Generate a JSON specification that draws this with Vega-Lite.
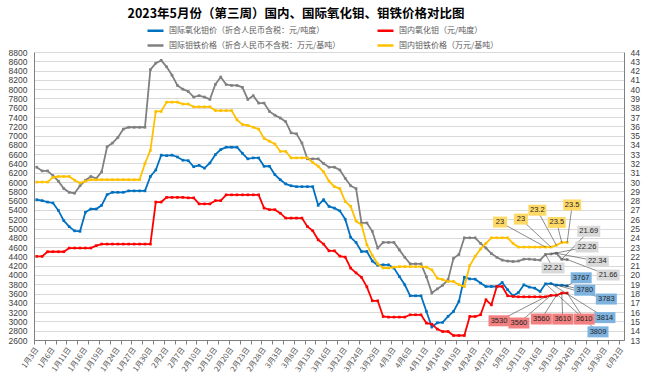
{
  "$schema": "https://vega.github.io/schema/vega-lite/v6.json",
  "width": 590,
  "height": 288,
  "autosize": {"type": "none"},
  "padding": {"left": 34, "top": 52, "right": 26, "bottom": 47},
  "background": "white",
  "config": {"view": {"stroke": null}, "font": "Noto Sans CJK SC"},
  "title": {
    "text": "2023年5月份（第三周）国内、国际氧化钼、钼铁价格对比图",
    "fontSize": 12.5,
    "fontWeight": "bold",
    "font": "Noto Sans CJK SC",
    "color": "#000000",
    "anchor": "middle",
    "frame": "group",
    "dx": -33,
    "offset": 1
  },
  "data": {
    "values": [
      {"i": 0, "intl_oxide": 5620, "dom_oxide": 4400, "intl_femo": 31.6, "dom_femo": 30.0},
      {"i": 1, "intl_oxide": 5600, "dom_oxide": 4400, "intl_femo": 31.2, "dom_femo": 30.0},
      {"i": 2, "intl_oxide": 5570, "dom_oxide": 4500, "intl_femo": 31.2, "dom_femo": 30.0},
      {"i": 3, "intl_oxide": 5550, "dom_oxide": 4500, "intl_femo": 30.7, "dom_femo": 30.5},
      {"i": 4, "intl_oxide": 5390, "dom_oxide": 4500, "intl_femo": 30.1, "dom_femo": 30.6},
      {"i": 5, "intl_oxide": 5170, "dom_oxide": 4500, "intl_femo": 29.3, "dom_femo": 30.6},
      {"i": 6, "intl_oxide": 5040, "dom_oxide": 4580, "intl_femo": 28.9, "dom_femo": 30.6},
      {"i": 7, "intl_oxide": 4950, "dom_oxide": 4580, "intl_femo": 28.8, "dom_femo": 30.2},
      {"i": 8, "intl_oxide": 4940, "dom_oxide": 4580, "intl_femo": 29.6, "dom_femo": 29.9},
      {"i": 9, "intl_oxide": 5350, "dom_oxide": 4580, "intl_femo": 30.2, "dom_femo": 30.1},
      {"i": 10, "intl_oxide": 5420, "dom_oxide": 4580, "intl_femo": 30.6, "dom_femo": 30.25},
      {"i": 11, "intl_oxide": 5420, "dom_oxide": 4630, "intl_femo": 30.4, "dom_femo": 30.25},
      {"i": 12, "intl_oxide": 5500, "dom_oxide": 4665, "intl_femo": 31.1, "dom_femo": 30.25},
      {"i": 13, "intl_oxide": 5730, "dom_oxide": 4665, "intl_femo": 33.8, "dom_femo": 30.25},
      {"i": 14, "intl_oxide": 5780, "dom_oxide": 4665, "intl_femo": 34.2, "dom_femo": 30.25},
      {"i": 15, "intl_oxide": 5780, "dom_oxide": 4665, "intl_femo": 34.8, "dom_femo": 30.25},
      {"i": 16, "intl_oxide": 5780, "dom_oxide": 4665, "intl_femo": 35.7, "dom_femo": 30.25},
      {"i": 17, "intl_oxide": 5810, "dom_oxide": 4665, "intl_femo": 35.9, "dom_femo": 30.25},
      {"i": 18, "intl_oxide": 5810, "dom_oxide": 4665, "intl_femo": 35.9, "dom_femo": 30.25},
      {"i": 19, "intl_oxide": 5810, "dom_oxide": 4665, "intl_femo": 35.9, "dom_femo": 30.25},
      {"i": 20, "intl_oxide": 5810, "dom_oxide": 4665, "intl_femo": 35.9, "dom_femo": 32.0},
      {"i": 21, "intl_oxide": 6120, "dom_oxide": 4665, "intl_femo": 42.1, "dom_femo": 33.4},
      {"i": 22, "intl_oxide": 6260, "dom_oxide": 5570, "intl_femo": 42.8, "dom_femo": 37.6},
      {"i": 23, "intl_oxide": 6580, "dom_oxide": 5570, "intl_femo": 43.1, "dom_femo": 37.6},
      {"i": 24, "intl_oxide": 6570, "dom_oxide": 5670, "intl_femo": 42.4, "dom_femo": 38.6},
      {"i": 25, "intl_oxide": 6580, "dom_oxide": 5670, "intl_femo": 41.5, "dom_femo": 38.6},
      {"i": 26, "intl_oxide": 6540, "dom_oxide": 5670, "intl_femo": 40.4, "dom_femo": 38.6},
      {"i": 27, "intl_oxide": 6470, "dom_oxide": 5670, "intl_femo": 40.0, "dom_femo": 38.4},
      {"i": 28, "intl_oxide": 6460, "dom_oxide": 5660, "intl_femo": 39.75, "dom_femo": 38.4},
      {"i": 29, "intl_oxide": 6330, "dom_oxide": 5660, "intl_femo": 39.15, "dom_femo": 38.1},
      {"i": 30, "intl_oxide": 6360, "dom_oxide": 5530, "intl_femo": 39.3, "dom_femo": 38.1},
      {"i": 31, "intl_oxide": 6300, "dom_oxide": 5530, "intl_femo": 39.15, "dom_femo": 38.1},
      {"i": 32, "intl_oxide": 6410, "dom_oxide": 5530, "intl_femo": 38.9, "dom_femo": 38.1},
      {"i": 33, "intl_oxide": 6590, "dom_oxide": 5600, "intl_femo": 40.5, "dom_femo": 37.7},
      {"i": 34, "intl_oxide": 6700, "dom_oxide": 5600, "intl_femo": 41.3, "dom_femo": 37.7},
      {"i": 35, "intl_oxide": 6750, "dom_oxide": 5725, "intl_femo": 40.5, "dom_femo": 37.7},
      {"i": 36, "intl_oxide": 6750, "dom_oxide": 5725, "intl_femo": 40.4, "dom_femo": 37.7},
      {"i": 37, "intl_oxide": 6750, "dom_oxide": 5725, "intl_femo": 40.4, "dom_femo": 36.7},
      {"i": 38, "intl_oxide": 6620, "dom_oxide": 5725, "intl_femo": 40.2, "dom_femo": 36.2},
      {"i": 39, "intl_oxide": 6500, "dom_oxide": 5725, "intl_femo": 38.9, "dom_femo": 36.1},
      {"i": 40, "intl_oxide": 6520, "dom_oxide": 5725, "intl_femo": 39.3, "dom_femo": 35.9},
      {"i": 41, "intl_oxide": 6520, "dom_oxide": 5725, "intl_femo": 38.5, "dom_femo": 35.7},
      {"i": 42, "intl_oxide": 6340, "dom_oxide": 5440, "intl_femo": 38.5, "dom_femo": 34.7},
      {"i": 43, "intl_oxide": 6340, "dom_oxide": 5405, "intl_femo": 37.6, "dom_femo": 34.4},
      {"i": 44, "intl_oxide": 6160, "dom_oxide": 5405, "intl_femo": 37.2, "dom_femo": 34.1},
      {"i": 45, "intl_oxide": 6050, "dom_oxide": 5330, "intl_femo": 36.9, "dom_femo": 33.3},
      {"i": 46, "intl_oxide": 5960, "dom_oxide": 5225, "intl_femo": 36.5, "dom_femo": 33.3},
      {"i": 47, "intl_oxide": 5920, "dom_oxide": 5225, "intl_femo": 35.3, "dom_femo": 32.6},
      {"i": 48, "intl_oxide": 5900, "dom_oxide": 5225, "intl_femo": 35.2, "dom_femo": 32.6},
      {"i": 49, "intl_oxide": 5900, "dom_oxide": 5225, "intl_femo": 34.2, "dom_femo": 32.6},
      {"i": 50, "intl_oxide": 5900, "dom_oxide": 5044, "intl_femo": 32.5, "dom_femo": 32.6},
      {"i": 51, "intl_oxide": 5900, "dom_oxide": 4951, "intl_femo": 32.5, "dom_femo": 32.1},
      {"i": 52, "intl_oxide": 5500, "dom_oxide": 4757, "intl_femo": 32.5, "dom_femo": 31.7},
      {"i": 53, "intl_oxide": 5620, "dom_oxide": 4665, "intl_femo": 32.0, "dom_femo": 31.1},
      {"i": 54, "intl_oxide": 5475, "dom_oxide": 4520, "intl_femo": 31.6, "dom_femo": 30.1},
      {"i": 55, "intl_oxide": 5440, "dom_oxide": 4520, "intl_femo": 31.6, "dom_femo": 29.5},
      {"i": 56, "intl_oxide": 5380, "dom_oxide": 4405, "intl_femo": 31.3, "dom_femo": 29.3},
      {"i": 57, "intl_oxide": 5200, "dom_oxide": 4385, "intl_femo": 30.4, "dom_femo": 27.9},
      {"i": 58, "intl_oxide": 4810, "dom_oxide": 4148, "intl_femo": 29.6, "dom_femo": 27.4},
      {"i": 59, "intl_oxide": 4700, "dom_oxide": 4045, "intl_femo": 29.3, "dom_femo": 25.8},
      {"i": 60, "intl_oxide": 4505, "dom_oxide": 3950, "intl_femo": 25.6, "dom_femo": 25.4},
      {"i": 61, "intl_oxide": 4505, "dom_oxide": 3745, "intl_femo": 25.6, "dom_femo": 23.25},
      {"i": 62, "intl_oxide": 4300, "dom_oxide": 3444, "intl_femo": 24.7, "dom_femo": 22.1},
      {"i": 63, "intl_oxide": 4210, "dom_oxide": 3444, "intl_femo": 22.9, "dom_femo": 21.2},
      {"i": 64, "intl_oxide": 4219, "dom_oxide": 3106, "intl_femo": 23.5, "dom_femo": 20.75},
      {"i": 65, "intl_oxide": 4219, "dom_oxide": 3093, "intl_femo": 23.5, "dom_femo": 20.75},
      {"i": 66, "intl_oxide": 4148, "dom_oxide": 3093, "intl_femo": 23.5, "dom_femo": 20.85},
      {"i": 67, "intl_oxide": 3967, "dom_oxide": 3093, "intl_femo": 22.7, "dom_femo": 20.9},
      {"i": 68, "intl_oxide": 3788, "dom_oxide": 3093, "intl_femo": 21.9, "dom_femo": 20.9},
      {"i": 69, "intl_oxide": 3552, "dom_oxide": 3143, "intl_femo": 21.2, "dom_femo": 20.9},
      {"i": 70, "intl_oxide": 3552, "dom_oxide": 3143, "intl_femo": 21.2, "dom_femo": 20.9},
      {"i": 71, "intl_oxide": 3552, "dom_oxide": 3143, "intl_femo": 21.2, "dom_femo": 20.9},
      {"i": 72, "intl_oxide": 3214, "dom_oxide": 2964, "intl_femo": 19.8, "dom_femo": 20.85},
      {"i": 73, "intl_oxide": 2880, "dom_oxide": 2940, "intl_femo": 18.05, "dom_femo": 20.55},
      {"i": 74, "intl_oxide": 2970, "dom_oxide": 2835, "intl_femo": 18.5, "dom_femo": 19.65},
      {"i": 75, "intl_oxide": 2980, "dom_oxide": 2783, "intl_femo": 18.9, "dom_femo": 19.5},
      {"i": 76, "intl_oxide": 3110, "dom_oxide": 2783, "intl_femo": 19.5, "dom_femo": 19.3},
      {"i": 77, "intl_oxide": 3214, "dom_oxide": 2697, "intl_femo": 21.8, "dom_femo": 19.3},
      {"i": 78, "intl_oxide": 3430, "dom_oxide": 2697, "intl_femo": 22.2, "dom_femo": 18.95},
      {"i": 79, "intl_oxide": 3950, "dom_oxide": 2697, "intl_femo": 24.0, "dom_femo": 18.75},
      {"i": 80, "intl_oxide": 3915, "dom_oxide": 3106, "intl_femo": 24.0, "dom_femo": 21.0},
      {"i": 81, "intl_oxide": 3910, "dom_oxide": 3106, "intl_femo": 24.0, "dom_femo": 22.0},
      {"i": 82, "intl_oxide": 3825, "dom_oxide": 3143, "intl_femo": 23.4, "dom_femo": 22.8},
      {"i": 83, "intl_oxide": 3752, "dom_oxide": 3466, "intl_femo": 22.9, "dom_femo": 23.4},
      {"i": 84, "intl_oxide": 3752, "dom_oxide": 3358, "intl_femo": 22.3, "dom_femo": 24.0},
      {"i": 85, "intl_oxide": 3752, "dom_oxide": 3752, "intl_femo": 21.9, "dom_femo": 24.0},
      {"i": 86, "intl_oxide": 3838, "dom_oxide": 3752, "intl_femo": 21.6, "dom_femo": 24.0},
      {"i": 87, "intl_oxide": 3681, "dom_oxide": 3552, "intl_femo": 21.5, "dom_femo": 24.0},
      {"i": 88, "intl_oxide": 3552, "dom_oxide": 3537, "intl_femo": 21.45, "dom_femo": 23.4},
      {"i": 89, "intl_oxide": 3623, "dom_oxide": 3530, "intl_femo": 21.5, "dom_femo": 23.0},
      {"i": 90, "intl_oxide": 3788, "dom_oxide": 3530, "intl_femo": 21.7, "dom_femo": 23.0},
      {"i": 91, "intl_oxide": 3739, "dom_oxide": 3530, "intl_femo": 21.7, "dom_femo": 23.0},
      {"i": 92, "intl_oxide": 3717, "dom_oxide": 3530, "intl_femo": 21.65, "dom_femo": 23.0},
      {"i": 93, "intl_oxide": 3644, "dom_oxide": 3530, "intl_femo": 21.6, "dom_femo": 23.0},
      {"i": 94, "intl_oxide": 3809, "dom_oxide": 3530, "intl_femo": 22.21, "dom_femo": 23},
      {"i": 95, "intl_oxide": 3814, "dom_oxide": 3560, "intl_femo": 22.26, "dom_femo": 23},
      {"i": 96, "intl_oxide": 3783, "dom_oxide": 3560, "intl_femo": 22.34, "dom_femo": 23.2},
      {"i": 97, "intl_oxide": 3780, "dom_oxide": 3610, "intl_femo": 21.69, "dom_femo": 23.5},
      {"i": 98, "intl_oxide": 3767, "dom_oxide": 3610, "intl_femo": 21.66, "dom_femo": 23.5}
    ]
  },
  "encoding": {
    "x": {
      "field": "i",
      "type": "quantitative",
      "scale": {"domain": [-0.5, 108.5], "nice": false, "zero": false},
      "axis": {
        "title": null,
        "grid": false,
        "values": [-0.5, 0, 1.5, 3, 3.5, 5.5, 6, 7.5, 9, 9.5, 11.5, 12, 13.5, 15, 15.5, 17.5, 18, 19.5, 21, 21.5, 23.5, 24, 25.5, 27, 27.5, 29.5, 30, 31.5, 33, 33.5, 35.5, 36, 37.5, 39, 39.5, 41.5, 42, 43.5, 45, 45.5, 47.5, 48, 49.5, 51, 51.5, 53.5, 54, 55.5, 57, 57.5, 59.5, 60, 61.5, 63, 63.5, 65.5, 66, 67.5, 69, 69.5, 71.5, 72, 73.5, 75, 75.5, 77.5, 78, 79.5, 81, 81.5, 83.5, 84, 85.5, 87, 87.5, 89.5, 90, 91.5, 93, 93.5, 95.5, 96, 97.5, 99, 99.5, 101.5, 102, 103.5, 105, 105.5, 107.5, 108],
        "labelExpr": "datum.value % 3 === 0 ? ['1月3日','1月6日','1月11日','1月16日','1月19日','1月24日','1月27日','1月30日','2月2日','2月7日','2月10日','2月15日','2月20日','2月23日','2月28日','3月3日','3月8日','3月13日','3月16日','3月21日','3月24日','3月29日','4月3日','4月6日','4月11日','4月14日','4月19日','4月24日','4月27日','5月5日','5月11日','5月16日','5月19日','5月24日','5月27日','5月30日','6月2日'][datum.value / 3] : ''",
        "labelAngle": -55,
        "labelAlign": "right",
        "labelBaseline": "middle",
        "labelFont": "Noto Sans CJK SC",
        "labelFontSize": 7.5,
        "labelColor": "#595959",
        "labelPadding": 4,
        "labelOverlap": false,
        "labelBound": false,
        "labelFlush": false,
        "tickSize": 4,
        "tickColor": "#808080",
        "tickOpacity": {"condition": {"test": "datum.value % 1 === 0", "value": 0}, "value": 1},
        "domainColor": "#808080"
      }
    }
  },
  "layer": [
    {
      "transform": [
        {"fold": ["intl_oxide", "dom_oxide"], "as": ["series", "value"]},
        {"calculate": "datum.series + '_' + datum.i", "as": "id"}
      ],
      "encoding": {
        "y": {
          "field": "value",
          "type": "quantitative",
          "scale": {"domain": [2600, 8800], "nice": false, "zero": false},
          "axis": {
            "orient": "left",
            "title": null,
            "format": "d",
            "values": [2600, 2800, 3000, 3200, 3400, 3600, 3800, 4000, 4200, 4400, 4600, 4800, 5000, 5200, 5400, 5600, 5800, 6000, 6200, 6400, 6600, 6800, 7000, 7200, 7400, 7600, 7800, 8000, 8200, 8400, 8600, 8800],
            "labelFont": "Liberation Sans",
            "labelFontSize": 8.5,
            "labelColor": "#404040",
            "labelPadding": 7,
            "ticks": false,
            "domainColor": "#808080",
            "grid": true,
            "gridColor": "#d9d9d9",
            "gridWidth": 1
          }
        }
      },
      "resolve": {"scale": {"shape": "independent"}},
      "layer": [
        {
          "mark": {"type": "line", "strokeWidth": 1.8, "point": {"filled": true, "size": 7, "shape": "square", "opacity": 1}},
          "encoding": {
            "color": {
              "field": "series",
              "type": "nominal",
              "scale": {"domain": ["intl_oxide", "dom_oxide", "intl_femo", "dom_femo"], "range": ["#0070C0", "#FF0000", "#808080", "#FFC000"]},
              "legend": {
                "orient": "none",
                "direction": "horizontal",
                "legendX": 112,
                "legendY": -31,
                "columns": 2,
                "columnPadding": 31,
                "rowPadding": 0,
                "title": null,
                "labelExpr": "['国际氧化钼价（折合人民币含税：元/吨度）','国内氧化钼（元/吨度）','国际钼铁价格（折合人民币不含税：万元/基吨）','国内钼铁价格（万元/基吨）'][indexof(['intl_oxide','dom_oxide','intl_femo','dom_femo'], datum.value)]",
                "labelFont": "Noto Sans CJK SC",
                "labelFontSize": 8,
                "labelColor": "#595959",
                "labelLimit": 400,
                "labelOffset": 4,
                "symbolType": "stroke",
                "symbolSize": 256,
                "symbolStrokeWidth": 2.5
              }
            }
          }
        },
        {
          "transform": [{"filter": "datum.i >= 94"}],
          "mark": {"type": "point", "size": 4, "filled": false, "color": "#404040", "strokeWidth": 0.6, "opacity": 1},
          "encoding": {
            "shape": {
              "field": "id",
              "type": "nominal",
              "legend": null,
              "scale": {
                "domain": ["intl_oxide_94", "intl_oxide_95", "intl_oxide_96", "intl_oxide_97", "intl_oxide_98", "dom_oxide_94", "dom_oxide_95", "dom_oxide_96", "dom_oxide_97", "dom_oxide_98"],
                "range": ["M0,0L52.5,48", "M0,0L54,34", "M0,0L50,14", "M0,0L23,5", "M0,0L14,-8", "M0,0L-46.5,24", "M0,0L-32,27.6", "M0,0L-15,23.6", "M0,0L1,26", "M0,0L17,26"]
              }
            }
          }
        },
        {
          "transform": [{"filter": "datum.i >= 94"}],
          "mark": {"type": "point", "size": 4, "filled": true, "strokeWidth": 0, "opacity": 1},
          "encoding": {
            "fill": {
              "field": "series",
              "type": "nominal",
              "legend": null,
              "scale": {"domain": ["intl_oxide", "dom_oxide", "intl_femo", "dom_femo"], "range": ["#7EB3E0", "#F28080", "#D9D9D9", "#FFD966"]}
            },
            "shape": {
              "field": "id",
              "type": "nominal",
              "legend": null,
              "scale": {
                "domain": ["intl_oxide_94", "intl_oxide_95", "intl_oxide_96", "intl_oxide_97", "intl_oxide_98", "dom_oxide_94", "dom_oxide_95", "dom_oxide_96", "dom_oxide_97", "dom_oxide_98"],
                "range": ["M42,42.5h21v11h-21Z", "M43.5,28.5h21v11h-21Z", "M39.5,8.5h21v11h-21Z", "M12.5,-0.5h21v11h-21Z", "M3.5,-13.5h21v11h-21Z", "M-57,18.5h21v11h-21Z", "M-42.5,22.1h21v11h-21Z", "M-25.5,18.1h21v11h-21Z", "M-9.5,20.5h21v11h-21Z", "M6.5,20.5h21v11h-21Z"]
              }
            }
          }
        },
        {
          "transform": [{"filter": "datum.i >= 94"}],
          "mark": {
            "type": "text",
            "font": "Liberation Sans",
            "fontSize": 7.5,
            "color": "#262626",
            "align": "center",
            "baseline": "middle",
            "dx": {"expr": "[52.5,54,50,23,14,-46.5,-32,-15,1,17][indexof(['intl_oxide_94','intl_oxide_95','intl_oxide_96','intl_oxide_97','intl_oxide_98','dom_oxide_94','dom_oxide_95','dom_oxide_96','dom_oxide_97','dom_oxide_98'], datum.id)]"},
            "dy": {"expr": "[48,34,14,5,-8,24,27.6,23.6,26,26][indexof(['intl_oxide_94','intl_oxide_95','intl_oxide_96','intl_oxide_97','intl_oxide_98','dom_oxide_94','dom_oxide_95','dom_oxide_96','dom_oxide_97','dom_oxide_98'], datum.id)]"}
          },
          "encoding": {"text": {"field": "value", "type": "nominal"}}
        }
      ]
    },
    {
      "transform": [
        {"fold": ["intl_femo", "dom_femo"], "as": ["series", "value"]},
        {"calculate": "datum.series + '_' + datum.i", "as": "id"}
      ],
      "encoding": {
        "y": {
          "field": "value",
          "type": "quantitative",
          "scale": {"domain": [13, 44], "nice": false, "zero": false},
          "axis": {
            "orient": "right",
            "title": null,
            "format": "d",
            "values": [13, 14, 15, 16, 17, 18, 19, 20, 21, 22, 23, 24, 25, 26, 27, 28, 29, 30, 31, 32, 33, 34, 35, 36, 37, 38, 39, 40, 41, 42, 43, 44],
            "labelFont": "Liberation Sans",
            "labelFontSize": 8.5,
            "labelColor": "#404040",
            "labelPadding": 6,
            "ticks": false,
            "domainColor": "#808080",
            "grid": false
          }
        }
      },
      "resolve": {"scale": {"shape": "independent"}},
      "layer": [
        {
          "mark": {"type": "line", "strokeWidth": 1.8, "point": {"filled": true, "size": 7, "shape": "square", "opacity": 1}},
          "encoding": {
            "color": {
              "field": "series",
              "type": "nominal",
              "scale": {"domain": ["intl_oxide", "dom_oxide", "intl_femo", "dom_femo"], "range": ["#0070C0", "#FF0000", "#808080", "#FFC000"]}
            }
          }
        },
        {
          "transform": [{"filter": "datum.i >= 94"}],
          "mark": {"type": "point", "size": 4, "filled": false, "color": "#404040", "strokeWidth": 0.6, "opacity": 1},
          "encoding": {
            "shape": {
              "field": "id",
              "type": "nominal",
              "legend": null,
              "scale": {
                "domain": ["intl_femo_94", "intl_femo_95", "intl_femo_96", "intl_femo_97", "intl_femo_98", "dom_femo_94", "dom_femo_95", "dom_femo_96", "dom_femo_97", "dom_femo_98"],
                "range": ["M0,0L7.5,13.6", "M0,0L36,-7", "M0,0L41,8", "M0,0L27,-28", "M0,0L41,15.5", "M0,0L-45.5,-25", "M0,0L-30,-28", "M0,0L-19,-35", "M0,0L-5,-20", "M0,0L5,-37.5"]
              }
            }
          }
        },
        {
          "transform": [{"filter": "datum.i >= 94"}],
          "mark": {"type": "point", "size": 4, "filled": true, "strokeWidth": 0, "opacity": 1},
          "encoding": {
            "fill": {
              "field": "series",
              "type": "nominal",
              "legend": null,
              "scale": {"domain": ["intl_oxide", "dom_oxide", "intl_femo", "dom_femo"], "range": ["#7EB3E0", "#F28080", "#D9D9D9", "#FFD966"]}
            },
            "shape": {
              "field": "id",
              "type": "nominal",
              "legend": null,
              "scale": {
                "domain": ["intl_femo_94", "intl_femo_95", "intl_femo_96", "intl_femo_97", "intl_femo_98", "dom_femo_94", "dom_femo_95", "dom_femo_96", "dom_femo_97", "dom_femo_98"],
                "range": ["M-4,8.1h23v11h-23Z", "M24.5,-12.5h23v11h-23Z", "M29.5,2.5h23v11h-23Z", "M15.5,-33.5h23v11h-23Z", "M29.5,10h23v11h-23Z", "M-52.5,-30.5h14v11h-14Z", "M-37,-33.5h14v11h-14Z", "M-28,-40.5h18v11h-18Z", "M-14,-25.5h18v11h-18Z", "M-4,-43h18v11h-18Z"]
              }
            }
          }
        },
        {
          "transform": [{"filter": "datum.i >= 94"}],
          "mark": {
            "type": "text",
            "font": "Liberation Sans",
            "fontSize": 7.5,
            "color": "#262626",
            "align": "center",
            "baseline": "middle",
            "dx": {"expr": "[7.5,36,41,27,41,-45.5,-30,-19,-5,5][indexof(['intl_femo_94','intl_femo_95','intl_femo_96','intl_femo_97','intl_femo_98','dom_femo_94','dom_femo_95','dom_femo_96','dom_femo_97','dom_femo_98'], datum.id)]"},
            "dy": {"expr": "[13.6,-7,8,-28,15.5,-25,-28,-35,-20,-37.5][indexof(['intl_femo_94','intl_femo_95','intl_femo_96','intl_femo_97','intl_femo_98','dom_femo_94','dom_femo_95','dom_femo_96','dom_femo_97','dom_femo_98'], datum.id)]"}
          },
          "encoding": {"text": {"field": "value", "type": "nominal"}}
        }
      ]
    }
  ],
  "resolve": {"scale": {"y": "independent", "shape": "independent"}}
}
